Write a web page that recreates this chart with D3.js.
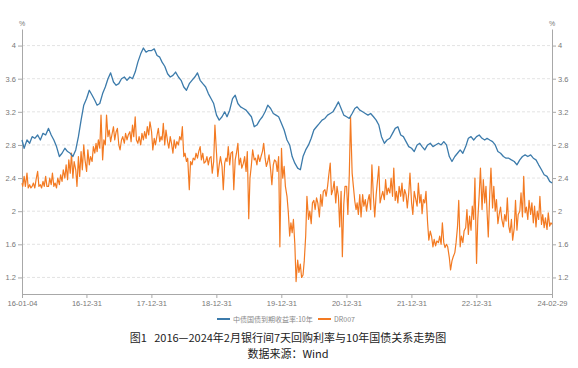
<!DOCTYPE html>
<html><head><meta charset="utf-8">
<script src="https://cdn.jsdelivr.net/npm/d3@7"></script>
<style>body{margin:0;background:#fff}</style></head>
<body>
<svg id="c" width="578" height="368"></svg>
<script>
const startDate = "2016-01-04", endDate = "2024-02-29";
const xTickDates = ["2016-01-04","2016-12-31","2017-12-31","2018-12-31","2019-12-31","2020-12-31","2021-12-31","2022-12-31","2024-02-29"];
const yTicks = [1.2,1.6,2,2.4,2.8,3.2,3.6,4];
const seriesNames = ["中债国债到期收益率:10年","DR007"];
const captionLines = ["图1\u00a0\u00a0\u00a02016—2024年2月银行间7天回购利率与10年国债关系走势图","数据来源：Wind"];
const yieldSlotDays = [1,16];
const drSlotDays = [1,8,16,23];
// 10Y yield, two readings per month from 2016-01
const yield10y = [
 2.86,2.76, 2.86,2.82, 2.90,2.88, 2.92,2.86, 2.94,2.92, 3.00,2.92, 2.86,2.78, 2.66,2.70, 2.76,2.72, 2.70,2.66, 2.74,2.90, 3.10,3.28,
 3.36,3.46, 3.40,3.34, 3.28,3.30, 3.42,3.50, 3.60,3.67, 3.56,3.52, 3.54,3.60, 3.62,3.58, 3.62,3.60, 3.68,3.80, 3.90,3.97, 3.92,3.94,
 3.94,3.96, 3.88,3.86, 3.80,3.75, 3.66,3.62, 3.64,3.68, 3.62,3.58, 3.50,3.46, 3.54,3.58, 3.62,3.67, 3.58,3.54, 3.50,3.42, 3.36,3.30,
 3.16,3.10, 3.14,3.20, 3.14,3.22, 3.36,3.40, 3.30,3.26, 3.24,3.22, 3.18,3.14, 3.02,3.04, 3.10,3.14, 3.20,3.28, 3.24,3.18, 3.16,3.14,
 3.06,2.98, 2.86,2.80, 2.66,2.58, 2.52,2.50, 2.66,2.74, 2.80,2.88, 2.98,3.02, 3.06,3.10, 3.12,3.16, 3.18,3.20, 3.26,3.32, 3.24,3.16,
 3.14,3.12, 3.18,3.24, 3.26,3.22, 3.20,3.18, 3.16,3.18, 3.14,3.10, 3.04,2.90, 2.82,2.86, 2.88,2.94, 3.00,3.02, 2.92,2.90, 2.84,2.78,
 2.76,2.72, 2.80,2.82, 2.78,2.74, 2.80,2.82, 2.78,2.80, 2.82,2.80, 2.84,2.80, 2.66,2.60, 2.66,2.70, 2.74,2.70, 2.78,2.88, 2.90,2.86,
 2.90,2.92, 2.88,2.86, 2.88,2.86, 2.84,2.80, 2.72,2.70, 2.66,2.64, 2.64,2.62, 2.60,2.56, 2.62,2.66, 2.68,2.66, 2.68,2.64, 2.62,2.56,
 2.50,2.44, 2.42,2.36
];
const yieldLast = 2.34;
// DR007, four readings per month from 2016-01
const dr007 = [
 2.34,2.30,2.42,2.30, 2.46,2.28,2.32,2.28, 2.30,2.34,2.28,2.38, 2.48,2.30,2.32,2.28, 2.36,2.30,2.42,2.30, 2.30,2.40,2.32,2.46,
 2.30,2.34,2.28,2.40, 2.32,2.44,2.36,2.50, 2.40,2.56,2.38,2.62, 2.46,2.70,2.40,2.60, 2.50,2.30,2.66,2.42, 2.72,2.50,2.80,2.62,
 2.48,2.74,2.56,2.66, 2.60,2.78,2.70,2.82, 2.72,2.86,2.76,3.16, 2.62,2.86,2.80,3.16, 2.90,2.98,2.84,2.92, 3.02,2.86,2.96,3.00,
 2.80,2.74,2.86,2.90, 2.82,2.94,2.86,2.92, 2.96,2.84,3.04,2.90, 3.14,2.86,2.82,2.90, 2.80,2.94,2.86,2.96, 2.88,3.02,2.92,3.08,
 2.96,2.74,2.88,2.80, 2.92,3.00,2.84,2.90, 2.86,3.06,2.80,2.98, 2.84,2.76,2.90,2.82, 2.70,2.86,2.76,2.84, 2.80,2.90,2.86,3.02,
 2.66,2.70,2.60,2.64, 2.26,2.60,2.56,2.64, 2.62,2.70,2.64,2.72, 2.78,2.62,2.70,2.58, 2.60,2.66,2.56,2.64, 2.66,2.46,2.60,3.04,
 2.70,2.42,2.56,2.66, 2.54,2.26,2.58,2.64, 2.60,2.78,2.56,2.70, 2.72,2.26,2.62,2.70, 2.82,2.56,2.64,2.52, 2.58,2.66,2.48,2.72,
 1.91,2.40,2.56,2.74, 2.62,2.64,2.56,2.68, 2.60,2.66,2.72,2.82, 2.64,2.54,2.60,2.68, 2.50,2.32,2.56,2.62, 2.60,2.48,2.66,1.57,
 2.76,2.40,2.54,2.30, 2.18,2.00,1.70,1.86, 1.74,1.90,1.60,1.15, 1.41,1.26,1.36,1.20, 1.23,1.40,1.70,2.18, 1.90,2.00,1.85,2.10,
 2.13,2.02,2.16,2.10, 1.93,2.20,2.06,2.24, 2.26,2.18,2.30,2.44, 2.58,2.20,2.26,2.36, 2.10,2.30,2.18,1.81, 2.24,1.45,2.08,2.30,
 2.30,1.96,2.44,3.14, 2.46,2.30,2.12,2.02, 2.10,1.96,2.20,1.93, 2.20,2.06,2.14,2.00, 2.13,2.20,2.02,2.56, 2.16,1.93,2.20,2.36,
 2.54,2.10,2.18,2.24, 2.14,2.38,2.20,2.28, 2.22,2.40,2.18,2.52, 2.13,2.24,2.10,2.30, 2.18,2.34,2.12,2.26, 2.20,2.04,2.22,2.46,
 2.10,1.96,2.24,2.16, 2.06,2.34,2.10,2.20, 1.97,2.14,2.10,2.24, 1.86,1.65,1.76,1.70, 1.57,1.66,1.58,1.64, 1.62,1.70,1.60,1.86,
 1.62,1.56,1.60,1.57, 1.44,1.29,1.40,1.45, 1.50,1.62,1.81,2.13, 1.57,1.70,1.62,1.76, 1.80,2.02,1.72,1.94, 1.77,2.06,1.90,2.40,
 1.37,1.90,2.20,2.52, 2.02,2.38,2.10,2.30, 2.00,1.69,2.20,2.52, 2.04,2.30,2.00,2.14, 1.85,1.96,2.05,1.90, 1.81,1.96,1.88,2.16,
 1.82,1.74,1.90,1.65, 1.80,2.13,1.77,1.96, 2.00,2.22,1.93,2.42, 1.98,2.05,1.90,2.13, 1.96,2.10,1.86,2.06, 1.81,2.00,1.90,2.18,
 1.84,1.96,1.80,1.92, 1.78,1.98,1.82,1.86
];
const drLast = 1.84;

const parse = d3.timeParse("%Y-%m-%d");
const t0 = parse(startDate), t1 = parse(endDate);
function build(arr, slots, last){
  const k = slots.length;
  const out = arr.map((v,i)=>{
    let d = new Date(2016, Math.floor(i/k), slots[i%k]);
    if (d < t0) d = t0;
    return {d, v};
  });
  out.push({d:t1, v:last});
  return out;
}
const blueData = build(yield10y, yieldSlotDays, yieldLast);
const orangeData = build(dr007, drSlotDays, drLast);

const L = 22, R = 552, T = 29, B = 294;
const x = d3.scaleTime().domain([t0,t1]).range([L,R]);
const y = d3.scaleLinear().domain([1.0,4.2]).range([B,T]);
const svg = d3.select("#c");
const font = "'Liberation Sans', Arial, sans-serif";

svg.append("g").selectAll("line").data(yTicks).join("line")
  .attr("x1",L).attr("x2",R).attr("y1",d=>y(d)).attr("y2",d=>y(d))
  .attr("stroke","#dcdcdc").attr("stroke-width",0.8).attr("stroke-dasharray","3,2");

function styleAxis(g){
  g.selectAll("path,line").attr("stroke","#a8a8a8");
  g.selectAll("text").attr("fill","#777").style("font-size","7.5px").style("font-family",font);
}
svg.append("g").attr("transform",`translate(${L},0)`)
  .call(d3.axisLeft(y).tickValues(yTicks).tickSize(4).tickSizeOuter(0).tickPadding(2).tickFormat(d3.format("")))
  .call(styleAxis);
svg.append("g").attr("transform",`translate(${R},0)`)
  .call(d3.axisRight(y).tickValues(yTicks).tickSize(4).tickSizeOuter(0).tickPadding(2).tickFormat(d3.format("")))
  .call(styleAxis);
svg.append("g").attr("transform",`translate(0,${B})`)
  .call(d3.axisBottom(x).tickValues(xTickDates.map(parse)).tickSize(4).tickSizeOuter(0).tickPadding(3).tickFormat(d3.timeFormat("%y-%m-%d")))
  .call(styleAxis);

svg.append("text").attr("x",L).attr("y",26).attr("text-anchor","middle").attr("fill","#777").style("font-size","7px").style("font-family",font).text("%");
svg.append("text").attr("x",R).attr("y",26).attr("text-anchor","middle").attr("fill","#777").style("font-size","7px").style("font-family",font).text("%");

const line = d3.line().x(d=>x(d.d)).y(d=>y(d.v));
svg.append("path").datum(orangeData).attr("d",line).attr("fill","none").attr("stroke","#f37a22").attr("stroke-width",1.2).attr("stroke-linejoin","round");
svg.append("path").datum(blueData).attr("d",line).attr("fill","none").attr("stroke","#3c7bab").attr("stroke-width",1.3).attr("stroke-linejoin","round");

const colors = ["#3c7bab","#f37a22"];
const lg = svg.append("g").attr("transform","translate(0,319)");
const legendX = [217, 318];
seriesNames.forEach((n,i)=>{
  lg.append("line").attr("x1",legendX[i]).attr("x2",legendX[i]+13).attr("y1",0).attr("y2",0).attr("stroke",colors[i]).attr("stroke-width",2);
  lg.append("text").attr("x",legendX[i]+16).attr("y",2.5).attr("fill","#888").style("font-size","7px").style("font-family","'Noto Sans CJK SC', sans-serif").text(n);
});

const cap = svg.append("g").style("font-family","'Noto Sans CJK SC', sans-serif").attr("fill","#222");
cap.append("text").attr("x",288).attr("y",342).attr("text-anchor","middle").style("font-size","11px").text(captionLines[0]);
cap.append("text").attr("x",288).attr("y",358).attr("text-anchor","middle").style("font-size","11px").text(captionLines[1]);
</script>
</body></html>
